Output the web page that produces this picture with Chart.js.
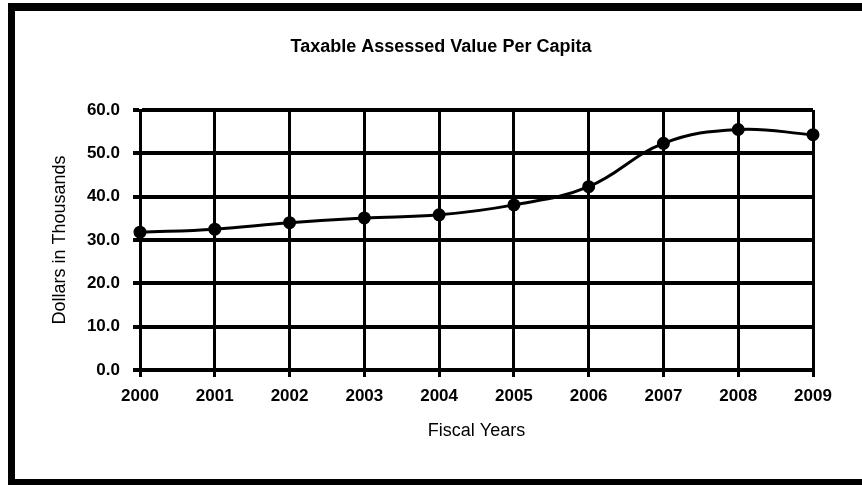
<!DOCTYPE html>
<html><head><meta charset="utf-8">
<script src="https://cdn.jsdelivr.net/npm/chart.js@4.4.1/dist/chart.umd.min.js"></script>
<style>
html,body{margin:0;padding:0;background:#fff;}
#wrap{position:relative;width:862px;height:485px;overflow:hidden;background:#fff;}
#c{position:absolute;left:0;top:0;}
#frame{position:absolute;left:8px;top:3px;width:900px;height:482px;border-top:8px solid #000;border-left:7px solid #000;border-bottom:6px solid #000;box-sizing:border-box;pointer-events:none;}
</style></head>
<body>
<div id="wrap"><canvas id="c" width="862" height="485"></canvas><div id="frame"></div></div>
<script>
const years = ['2000','2001','2002','2003','2004','2005','2006','2007','2008','2009'];
const values = [31.8, 32.5, 34.0, 35.1, 35.8, 38.1, 42.3, 52.3, 55.5, 54.3];
const yMin = 0, yMax = 60, yStep = 10;
const titleText = 'Taxable Assessed Value Per Capita';
const xTitle = 'Fiscal Years';
const yTitle = 'Dollars in Thousands';

const FF = "'Liberation Sans', Arial, sans-serif";
new Chart(document.getElementById('c'), {
  type: 'line',
  data: { labels: years, datasets: [{
    data: values, borderColor: '#000', backgroundColor: '#000', borderWidth: 3,
    tension: 0.4, pointRadius: 5, pointBackgroundColor: '#000', pointBorderColor: '#000', fill: false
  }]},
  options: {
    responsive: false, devicePixelRatio: 1, animation: false,
    layout: { padding: { left: 20, right: 0, top: 0, bottom: 0 } },
    plugins: {
      legend: { display: false }, tooltip: { enabled: false },
      title: { display: true, text: titleText, color: '#000',
        font: { family: FF, size: 18, weight: 'bold', lineHeight: 1.2 },
        padding: { top: 36.2, bottom: 52.2 } }
    },
    scales: {
      x: {
        offset: false,
        grid: { color: '#000', lineWidth: 3, drawTicks: true, tickLength: 7, tickColor: '#000', tickWidth: 3 },
        border: { display: true, color: '#000', width: 3 },
        ticks: { color: '#000', padding: 9, maxRotation: 0, autoSkip: false,
          font: { family: FF, size: 17, weight: 'bold', lineHeight: 1.2 } },
        title: { display: true, text: xTitle, color: '#000',
          font: { family: FF, size: 18, weight: 'normal', lineHeight: 1.2 },
          padding: { top: 0, bottom: 43.2 } },
        afterFit: s => { s.height = 115; }
      },
      y: {
        min: yMin, max: yMax,
        grid: { color: '#000', lineWidth: 4, drawTicks: true, tickLength: 7, tickColor: '#000', tickWidth: 4 },
        border: { display: true, color: '#000', width: 3 },
        ticks: { stepSize: yStep, color: '#000', padding: 13,
          callback: v => Number(v).toFixed(1),
          font: { family: FF, size: 17, weight: 'bold', lineHeight: 1.2 } },
        title: { display: true, text: yTitle, color: '#000',
          font: { family: FF, size: 18, weight: 'normal', lineHeight: 1.2 },
          padding: { top: 29, bottom: 0 } },
        afterFit: s => { s.width = 120; }
      },
      yRight: {
        position: 'right', display: true,
        grid: { display: false, drawTicks: false }, border: { display: false },
        ticks: { display: false },
        afterFit: s => { s.width = 49; }
      }
    }
  }
});
</script>
</body></html>
